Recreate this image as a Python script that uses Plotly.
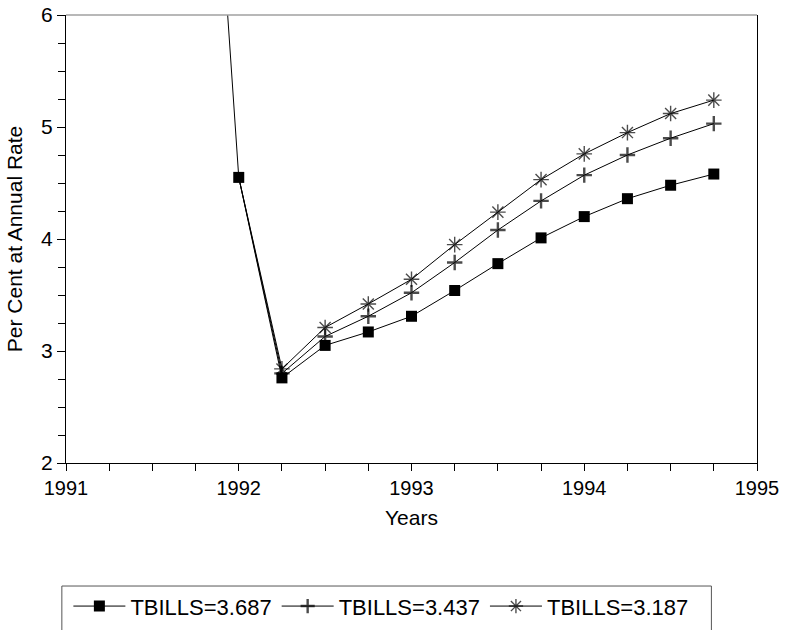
import plotly.graph_objects as go

quarters = [1991.75, 1992.0, 1992.25, 1992.5, 1992.75, 1993.0, 1993.25, 1993.5,
            1993.75, 1994.0, 1994.25, 1994.5, 1994.75]
tb_3687 = [10.2, 4.55, 2.76, 3.05, 3.17, 3.31, 3.54, 3.78, 4.01, 4.20, 4.36, 4.48, 4.58]
tb_3437 = [10.2, 4.55, 2.80, 3.13, 3.31, 3.52, 3.79, 4.08, 4.34, 4.57, 4.75, 4.90, 5.03]
tb_3187 = [10.2, 4.55, 2.84, 3.21, 3.42, 3.64, 3.95, 4.24, 4.53, 4.76, 4.95, 5.12, 5.24]
names = ["TBILLS=3.687", "TBILLS=3.437", "TBILLS=3.187"]
x_ticks = [1991, 1992, 1993, 1994, 1995]
y_ticks = [2, 3, 4, 5, 6]

FONT = "Liberation Sans, Arial, sans-serif"

fig = go.Figure()
fig.add_trace(go.Scatter(
    x=quarters, y=tb_3687, name=names[0], mode="lines+markers",
    line=dict(color="black", width=1),
    marker=dict(symbol="square", size=11, color="black"),
))
# series 2 and 3 share the early path; markers only from 1992.25
sizes = [0] + [11] * (len(quarters) - 2)
fig.add_trace(go.Scatter(
    x=quarters[1:], y=tb_3437[1:], name=names[1], mode="lines+markers",
    line=dict(color="black", width=1),
    marker=dict(symbol="cross-thin", size=sizes, color="black",
                line=dict(color="black", width=2.4)),
))
fig.add_trace(go.Scatter(
    x=quarters[1:], y=tb_3187[1:], name=names[2], mode="lines+markers",
    line=dict(color="black", width=1),
    marker=dict(symbol="asterisk-open", size=[s + 2 if s else 0 for s in sizes],
                color="black", line=dict(color="black", width=1.4)),
))

fig.update_layout(
    width=786, height=630,
    margin=dict(l=66, r=29, t=15, b=167, autoexpand=False),
    paper_bgcolor="white", plot_bgcolor="white",
    font=dict(family=FONT, size=20, color="black"),
    showlegend=True,
    legend=dict(
        orientation="h", xref="container", yref="container",
        x=0.087, y=0.071, xanchor="left", yanchor="top",
        font=dict(family=FONT, size=22, color="black"),
        bgcolor="rgba(0,0,0,0)", borderwidth=0,
        itemwidth=52, tracegroupgap=0,
    ),
    xaxis=dict(
        range=[1991, 1995], tickvals=x_ticks, ticktext=[str(v) for v in x_ticks],
        showgrid=False, zeroline=False, automargin=False,
        showline=True, linecolor="black", linewidth=1,
        ticks="outside", ticklen=7, tickcolor="black", tickwidth=1,
        minor=dict(dtick=0.25, tick0=1991, ticks="outside", ticklen=7,
                   tickcolor="black", showgrid=False),
        title=dict(text="Years", standoff=12, font=dict(size=21)),
        tickfont=dict(size=20),
    ),
    yaxis=dict(
        range=[2, 6], tickvals=y_ticks, ticktext=[str(v) for v in y_ticks],
        showgrid=False, zeroline=False, automargin=False,
        showline=True, linecolor="black", linewidth=1, mirror=True,
        ticks="outside", ticklen=8, tickcolor="black", tickwidth=1,
        minor=dict(dtick=0.25, tick0=2, ticks="outside", ticklen=7,
                   tickcolor="black", showgrid=False),
        title=dict(text="Per Cent at Annual Rate", standoff=12, font=dict(size=21)),
        tickfont=dict(size=21),
    ),
    shapes=[
        # gray top frame line
        dict(type="line", xref="paper", yref="paper", x0=0, x1=1, y0=1, y1=1,
             line=dict(color="#a0a0a0", width=1.5)),
        # legend box (top, left, right; open at bottom)
        dict(type="line", xref="paper", yref="paper", x0=-0.006, x1=0.934,
             y0=-0.2746, y1=-0.2746, line=dict(color="#555555", width=1)),
        dict(type="line", xref="paper", yref="paper", x0=-0.006, x1=-0.006,
             y0=-0.2746, y1=-0.375, line=dict(color="#555555", width=1)),
        dict(type="line", xref="paper", yref="paper", x0=0.934, x1=0.934,
             y0=-0.2746, y1=-0.375, line=dict(color="#555555", width=1)),
    ],
)

fig.write_html("out.html")
